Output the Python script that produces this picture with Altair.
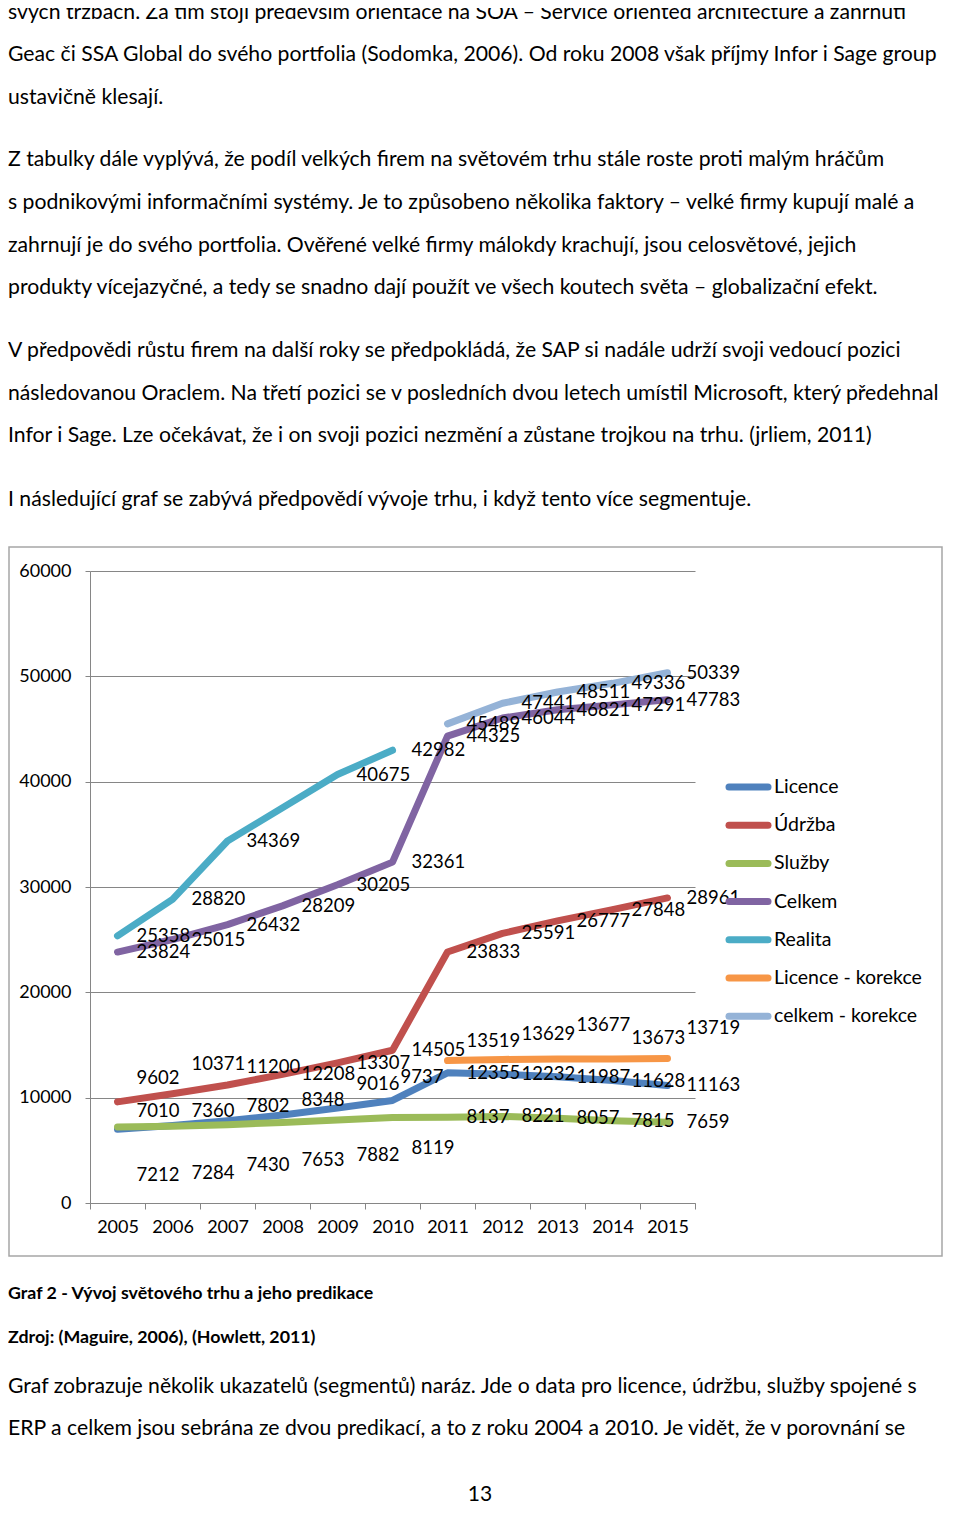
import altair as alt
import pandas as pd

# ---------------- data ----------------
years = [2005, 2006, 2007, 2008, 2009, 2010, 2011, 2012, 2013, 2014, 2015]
series_names = ["Licence", "Údržba", "Služby", "Celkem", "Realita",
                "Licence - korekce", "celkem - korekce"]
licence = [7010, 7360, 7802, 8348, 9016, 9737, 12355, 12232, 11987, 11628, 11163]
udrzba = [9602, 10371, 11200, 12208, 13307, 14505, 23833, 25591, 26777, 27848, 28961]
sluzby = [7212, 7284, 7430, 7653, 7882, 8119, 8137, 8221, 8057, 7815, 7659]
celkem = [23824, 25015, 26432, 28209, 30205, 32361, 44325, 46044, 46821, 47291, 47783]
realita = [25358, 28820, 34369, None, 40675, 42982, None, None, None, None, None]
licence_kor = [None, None, None, None, None, None, 13519, 13629, 13677, 13673, 13719]
celkem_kor = [None, None, None, None, None, None, 45489, 47441, 48511, 49336, 50339]
y_ticks = [0, 10000, 20000, 30000, 40000, 50000, 60000]

# ---------------- styles / layout (kept apart from the data) ----------------
colors = ["#4F81BD", "#C0504D", "#9BBB59", "#8064A2", "#4BACC6", "#F79646", "#95B3D7"]
FONT = "Lato"
# data labels that were moved by hand in the original (pixel nudges)
label_dy = {
    ("Licence", 2005): -18, ("Licence", 2006): -14, ("Licence", 2007): -15,
    ("Licence", 2008): -15, ("Licence", 2009): -24, ("Licence", 2010): -23,
    ("Údržba", 2005): -24, ("Údržba", 2006): -30, ("Údržba", 2007): -18,
    ("Služby", 2005): 48, ("Služby", 2006): 47, ("Služby", 2007): 40,
    ("Služby", 2008): 38, ("Služby", 2009): 35, ("Služby", 2010): 31,
    ("Licence - korekce", 2011): -20, ("Licence - korekce", 2012): -25,
    ("Licence - korekce", 2013): -34, ("Licence - korekce", 2014): -21,
    ("Licence - korekce", 2015): -30,
}
label_dx = {("Licence", 2010): -11}
LABEL_GAP = 19

W, H = 605, 632
OX, OY = 90, 571          # page position of plot origin
PAD_L, PAD_T = OX - 8, OY - 8
TOTAL_W, TOTAL_H = 944, 1499

all_series = [licence, udrzba, sluzby, celkem, realita, licence_kor, celkem_kor]
rows = []
for name, vals in zip(series_names, all_series):
    for yr, v in zip(years, vals):
        if v is None:
            continue
        rows.append({"series": name, "year": yr, "value": v, "label": str(v),
                     "ndx": label_dx.get((name, yr), 0),
                     "ndy": label_dy.get((name, yr), 0)})
df = pd.DataFrame(rows)

x_enc = alt.X("year:O",
              scale=alt.Scale(type="band", paddingInner=0, paddingOuter=0),
              bandPosition=0.5,
              axis=alt.Axis(title=None, labelAngle=0, tickBand="extent", tickSize=6,
                            domainColor="#868686", tickColor="#868686",
                            labelFont=FONT, labelFontSize=18, labelColor="black",
                            labelPadding=9, grid=False))
y_enc = alt.Y("value:Q", scale=alt.Scale(domain=[0, 60000], nice=False),
              axis=alt.Axis(title=None, values=y_ticks, tickSize=5, grid=True,
                            gridColor="#868686", domainColor="#868686", tickColor="#868686",
                            labelFont=FONT, labelFontSize=18, labelColor="black",
                            labelPadding=14, format="d"))

layers = []

# chart frame
frame = alt.Chart(pd.DataFrame({"a": [0]})).mark_rect(
    fill=None, stroke="#a6a6a6", strokeWidth=1.5).encode(
    x=alt.value(9 - OX), x2=alt.value(942 - OX),
    y=alt.value(547 - OY), y2=alt.value(1256 - OY))
layers.append(frame)

base = alt.Chart(df)
for name, col in zip(series_names, colors):
    layers.append(
        base.transform_filter(alt.datum.series == name)
        .mark_line(strokeWidth=7, strokeCap="round", strokeJoin="round", color=col)
        .encode(x=x_enc, y=y_enc)
    )

# data labels, one text layer per nudge group
for (ndx, ndy), sub in df.groupby(["ndx", "ndy"]):
    layers.append(
        alt.Chart(sub).mark_text(align="left", baseline="middle",
                                 dx=LABEL_GAP + int(ndx), dy=int(ndy), font=FONT,
                                 fontSize=18.5, color="black")
        .encode(x=alt.X("year:O", bandPosition=0.5), y=alt.Y("value:Q"), text="label:N")
    )

# legend
leg = pd.DataFrame({"name": series_names, "i": list(range(len(series_names)))})
leg_col = alt.Color("name:N", scale=alt.Scale(domain=series_names, range=colors), legend=None)
leg_rules = alt.Chart(leg).transform_calculate(
    ly=f"{787 - OY} + datum.i * 38.2").mark_rule(strokeWidth=7, strokeCap="round").encode(
    x=alt.value(729 - OX), x2=alt.value(768 - OX),
    y=alt.Y("ly:Q", scale=None), color=leg_col)
leg_text = alt.Chart(leg).transform_calculate(
    ly=f"{787 - OY} + datum.i * 38.2").mark_text(
    align="left", baseline="middle", font=FONT, fontSize=19.5, color="black").encode(
    x=alt.value(774 - OX), y=alt.Y("ly:Q", scale=None), text="name:N")
layers += [leg_rules, leg_text]

# surrounding document text
body_lines = [
    "svých tržbách. Za tím stojí především orientace na SOA – Service oriented architecture a zahrnutí",
    "Geac či SSA Global do svého portfolia (Sodomka, 2006). Od roku 2008 však příjmy Infor i Sage group",
    "ustavičně klesají.",
    "Z tabulky dále vyplývá, že podíl velkých firem na světovém trhu stále roste proti malým hráčům",
    "s podnikovými informačními systémy. Je to způsobeno několika faktory – velké firmy kupují malé a",
    "zahrnují je do svého portfolia. Ověřené velké firmy málokdy krachují, jsou celosvětové, jejich",
    "produkty vícejazyčné, a tedy se snadno dají použít ve všech koutech světa – globalizační efekt.",
    "V předpovědi růstu firem na další roky se předpokládá, že SAP si nadále udrží svoji vedoucí pozici",
    "následovanou Oraclem. Na třetí pozici se v posledních dvou letech umístil Microsoft, který předehnal",
    "Infor i Sage. Lze očekávat, že i on svoji pozici nezmění a zůstane trojkou na trhu. (jrliem, 2011)",
    "I následující graf se zabývá předpovědí vývoje trhu, i když tento více segmentuje.",
    "Graf zobrazuje několik ukazatelů (segmentů) naráz. Jde o data pro licence, údržbu, služby spojené s",
    "ERP a celkem jsou sebrána ze dvou predikací, a to z roku 2004 a 2010. Je vidět, že v porovnání se",
]
body_baselines = [18.5, 61, 103.5, 166, 209, 251.5, 294, 357, 400, 442, 506, 1393, 1435]
captions = ["Graf 2 - Vývoj světového trhu a jeho predikace",
            "Zdroj: (Maguire, 2006), (Howlett, 2011)"]
caption_baselines = [1299, 1343]

body_df = pd.DataFrame({"t": body_lines, "py": [b - OY for b in body_baselines]})
body = alt.Chart(body_df).mark_text(align="left", baseline="alphabetic", font=FONT,
                                    fontSize=21.2, color="black").encode(
    x=alt.value(8 - OX), y=alt.Y("py:Q", scale=None), text="t:N")
cap_df = pd.DataFrame({"t": captions, "py": [b - OY for b in caption_baselines]})
cap = alt.Chart(cap_df).mark_text(align="left", baseline="alphabetic", font=FONT,
                                  fontSize=17.8, fontWeight="bold", color="black").encode(
    x=alt.value(8 - OX), y=alt.Y("py:Q", scale=None), text="t:N")
pg = alt.Chart(pd.DataFrame({"t": ["13"]})).mark_text(
    align="center", baseline="alphabetic", font=FONT, fontSize=21, color="black").encode(
    x=alt.value(480 - OX), y=alt.value(1501 - OY), text="t:N")
layers += [body, cap, pg]

chart = alt.layer(*layers).properties(
    width=W, height=H,
    padding={"left": PAD_L, "top": PAD_T, "right": TOTAL_W - PAD_L - W,
             "bottom": TOTAL_H - PAD_T - H},
    autosize=alt.AutoSizeParams(type="none"),
).configure_view(stroke=None).configure_axis(labelFont=FONT)

chart.save("out.html", embed_options={"renderer": "svg", "actions": False})
